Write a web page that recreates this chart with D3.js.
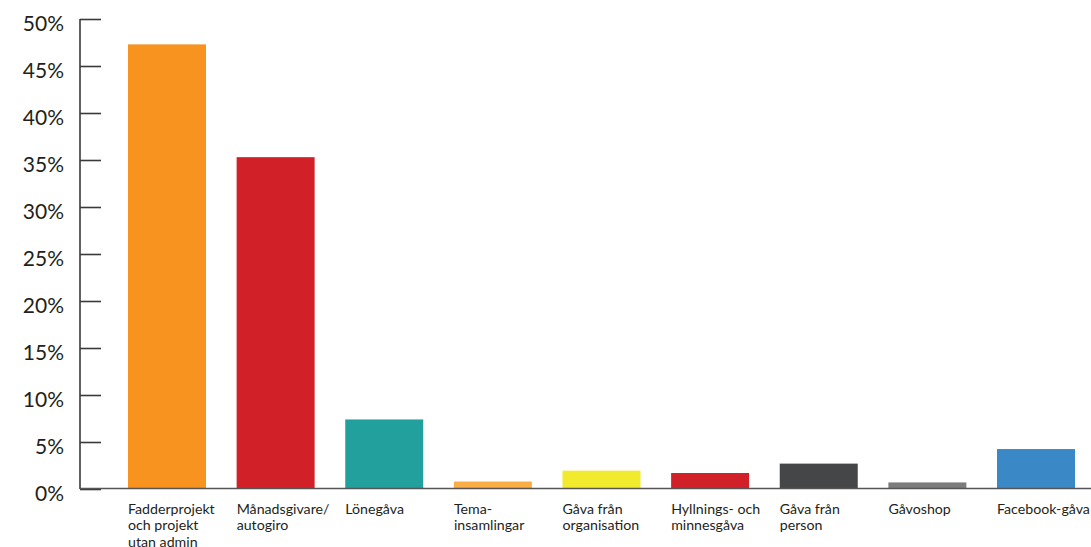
<!DOCTYPE html>
<html><head><meta charset="utf-8">
<script src="https://cdn.jsdelivr.net/npm/d3@7"></script>
<style>
body{margin:0;background:#fff;}
svg{display:block;font-family:Lato,"Open Sans",sans-serif;}
</style></head><body>
<svg id="c" width="1091" height="547"></svg>
<script>
const categories = [
  ["Fadderprojekt","och projekt","utan admin"],
  ["Månadsgivare/","autogiro"],
  ["Lönegåva"],
  ["Tema-","insamlingar"],
  ["Gåva från","organisation"],
  ["Hyllnings- och","minnesgåva"],
  ["Gåva från","person"],
  ["Gåvoshop"],
  ["Facebook-gåva"]
];
const values = [47.3, 35.3, 7.4, 0.8, 1.95, 1.7, 2.7, 0.7, 4.25];
const colors = ["#F7931E","#D12027","#22A09E","#FBAE45","#F2EA2C","#D12027","#454648","#7C7C7F","#3B88C7"];
const yTicks = [0,5,10,15,20,25,30,35,40,45,50];

const svg = d3.select("#c");
const x0 = 80, yTop = 19, yBot = 489;
const y = d3.scaleLinear().domain([0,50]).range([yBot, yTop]);
const step = 108.625, pIn = 0.282, pOut = 0.5;
const xStart = 128 - pOut*step;
const x = d3.scaleBand().domain(d3.range(values.length))
  .range([xStart, xStart + step*(values.length - pIn + 2*pOut)])
  .paddingInner(pIn).paddingOuter(pOut);

// bars
svg.selectAll("rect.bar").data(values).join("rect")
  .attr("class","bar")
  .attr("x",(d,i)=>x(i))
  .attr("width",x.bandwidth())
  .attr("y",d=>y(d))
  .attr("height",d=>y(0)-y(d))
  .attr("fill",(d,i)=>colors[i]);

// y axis
const yAxis = d3.axisRight(y).tickValues(yTicks).tickSize(21).tickFormat(d=>d+"%");
const ga = svg.append("g").attr("transform",`translate(${x0},0)`).call(yAxis);
ga.select(".domain").remove();
ga.selectAll(".tick line").attr("stroke","#3a3a3a").attr("stroke-width",1.6);
ga.selectAll(".tick text").attr("x",-16).attr("text-anchor","end")
  .attr("font-size",21).attr("fill","#231f20").attr("dy","0.35em")
  .attr("transform","translate(0,4)")
  .attr("font-family","Lato,'Open Sans',sans-serif");
svg.append("line").attr("x1",x0).attr("x2",x0).attr("y1",yTop).attr("y2",yBot)
  .attr("stroke","#3a3a3a").attr("stroke-width",1.6);
svg.append("line").attr("x1",x0).attr("x2",1091).attr("y1",yBot-0.5).attr("y2",yBot-0.5)
  .attr("stroke","#555").attr("stroke-width",1.6);

// category labels
const lab = svg.selectAll("text.cat").data(categories).join("text")
  .attr("class","cat")
  .attr("x",(d,i)=>x(i))
  .attr("y",513.5)
  .attr("font-size",14.2)
  .attr("fill","#231f20");
lab.selectAll("tspan").data(d=>d).join("tspan")
  .attr("x",function(){return this.parentNode.getAttribute("x");})
  .attr("dy",(d,i)=>i===0?0:16.8)
  .text(d=>d);
</script>
</body></html>
